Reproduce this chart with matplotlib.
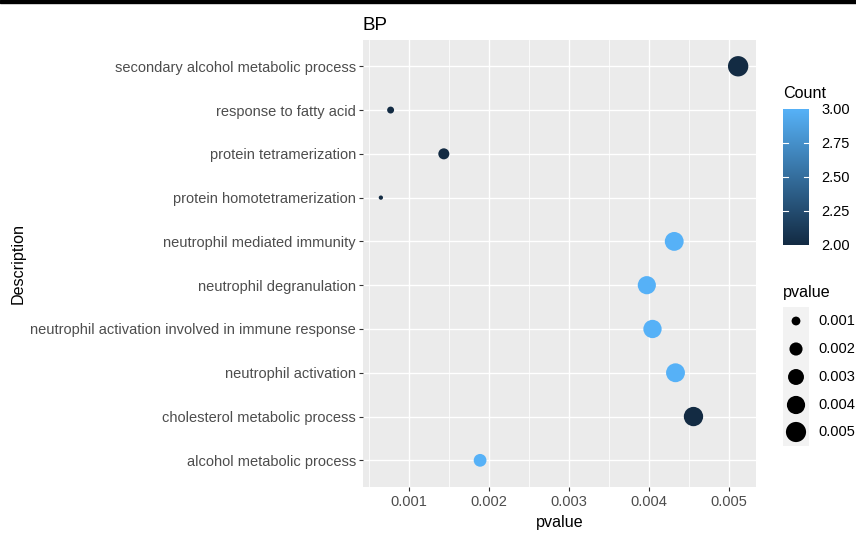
import matplotlib
matplotlib.use("Agg")
import matplotlib.pyplot as plt
import numpy as np
from matplotlib.colors import LinearSegmentedColormap

# данные (сверху вниз как на картинке)
descriptions = [
    "secondary alcohol metabolic process",
    "response to fatty acid",
    "protein tetramerization",
    "protein homotetramerization",
    "neutrophil mediated immunity",
    "neutrophil degranulation",
    "neutrophil activation involved in immune response",
    "neutrophil activation",
    "cholesterol metabolic process",
    "alcohol metabolic process",
]
pvalues = [0.005118, 0.000768, 0.001434, 0.000646, 0.004318,
           0.003975, 0.004046, 0.004334, 0.004559, 0.001888]
counts = [2, 2, 2, 2, 3, 3, 3, 3, 2, 3]

x_ticks = [0.001, 0.002, 0.003, 0.004, 0.005]
count_breaks = [2.00, 2.25, 2.50, 2.75, 3.00]
pvalue_breaks = [0.001, 0.002, 0.003, 0.004, 0.005]

W, H, DPI = 856, 533, 100
FONT = "Liberation Sans"
plt.rcParams["font.family"] = [FONT, "DejaVu Sans"]
TICK_FS = 10.5
TITLE_FS = 11.6

cmap = LinearSegmentedColormap.from_list("gg", ["#132B43", "#56B1F7"])
pmin, pmax = min(pvalues), max(pvalues)
cmin, cmax = min(counts), max(counts)


def size_pts(p):
    # ggplot scale_size (area, range 1..6) -> marker area in pt^2 at 100 dpi
    s = 1 + 5 * np.sqrt((np.asarray(p) - pmin) / (pmax - pmin))
    d_px = 1.13 * (2.845 * s + 0.945)
    return (d_px * 72 / DPI) ** 2


def px_box(x0, y0, x1, y1):
    return [x0 / W, 1 - y1 / H, (x1 - x0) / W, (y1 - y0) / H]


fig = plt.figure(figsize=(W / DPI, H / DPI), dpi=DPI)
fig.patches.append(plt.Rectangle((0, 1 - 2.5 / H), 1, 2.5 / H,
                                 transform=fig.transFigure, color="black"))

ax = fig.add_axes(px_box(363, 40, 756, 486.6))
ax.set_facecolor("#EBEBEB")
n = len(descriptions)
ypos = np.arange(n)[::-1]
ax.scatter(pvalues, ypos, s=size_pts(pvalues), c=counts, cmap=cmap,
           vmin=cmin, vmax=cmax, linewidths=0, zorder=3)

span = pmax - pmin
ax.set_xlim(pmin - 0.05 * span, pmax + 0.05 * span)
ax.set_ylim(-0.6, n - 1 + 0.6)
ax.set_xticks(x_ticks)
ax.set_xticklabels([f"{t:.3f}" for t in x_ticks])
ax.set_xticks(np.arange(0.0005, 0.0055, 0.001), minor=True)
ax.set_yticks(ypos)
ax.set_yticklabels(descriptions)
ax.grid(which="major", color="white", linewidth=1.0, zorder=0)
ax.grid(which="minor", axis="x", color="white", linewidth=0.55, zorder=0)
ax.set_axisbelow(True)
for sp in ax.spines.values():
    sp.set_visible(False)
ax.tick_params(which="major", length=2.6, width=0.8, color="#333333",
               labelsize=TICK_FS, labelcolor="#4D4D4D", pad=2.5)
ax.tick_params(axis="x", which="major", pad=3.5)
ax.tick_params(which="minor", length=0)
ax.set_xlabel("pvalue", fontsize=TITLE_FS, labelpad=4)
ax.set_ylabel("Description", fontsize=TITLE_FS, labelpad=3)
ax.set_title("BP", fontsize=13.5, loc="left", pad=7)

# легенда Count (цветовая шкала)
cax = fig.add_axes(px_box(783, 109, 809, 245))
grad = np.linspace(cmin, cmax, 200).reshape(-1, 1)
cax.imshow(grad, aspect="auto", cmap=cmap, origin="lower",
           extent=[0, 1, cmin, cmax], vmin=cmin, vmax=cmax)
cax.set_xlim(0, 1)
cax.set_ylim(cmin, cmax)
cax.set_xticks([])
cax.set_yticks(count_breaks)
cax.set_yticklabels([f"{b:.2f}" for b in count_breaks])
cax.yaxis.tick_right()
cax.tick_params(axis="y", length=0, labelsize=TICK_FS, labelcolor="black", pad=9)
for b in count_breaks[1:-1]:
    cax.plot([0, 0.2], [b, b], color="white", lw=0.8)
    cax.plot([0.8, 1], [b, b], color="white", lw=0.8)
for sp in cax.spines.values():
    sp.set_visible(False)
fig.text(783 / W, 1 - 93 / H, "Count", fontsize=TITLE_FS, va="center", ha="left")

# легенда pvalue (размеры)
lax = fig.add_axes([0, 0, 1, 1], facecolor="none")
lax.set_xlim(0, W)
lax.set_ylim(H, 0)
lax.axis("off")
lax.text(783, 292, "pvalue", fontsize=TITLE_FS, va="center", ha="left")
key_y = [321, 349, 377, 405, 432]
lax.add_patch(plt.Rectangle((783, 307), 26, 139, color="#F2F2F2", lw=0))
lax.scatter([796] * len(pvalue_breaks), key_y, s=size_pts(pvalue_breaks),
            color="black", linewidths=0)
for yk, b in zip(key_y, pvalue_breaks):
    lax.text(818, yk, f"{b:.3f}", fontsize=TICK_FS, va="center", ha="left")

fig.savefig("out.png", dpi=DPI)
